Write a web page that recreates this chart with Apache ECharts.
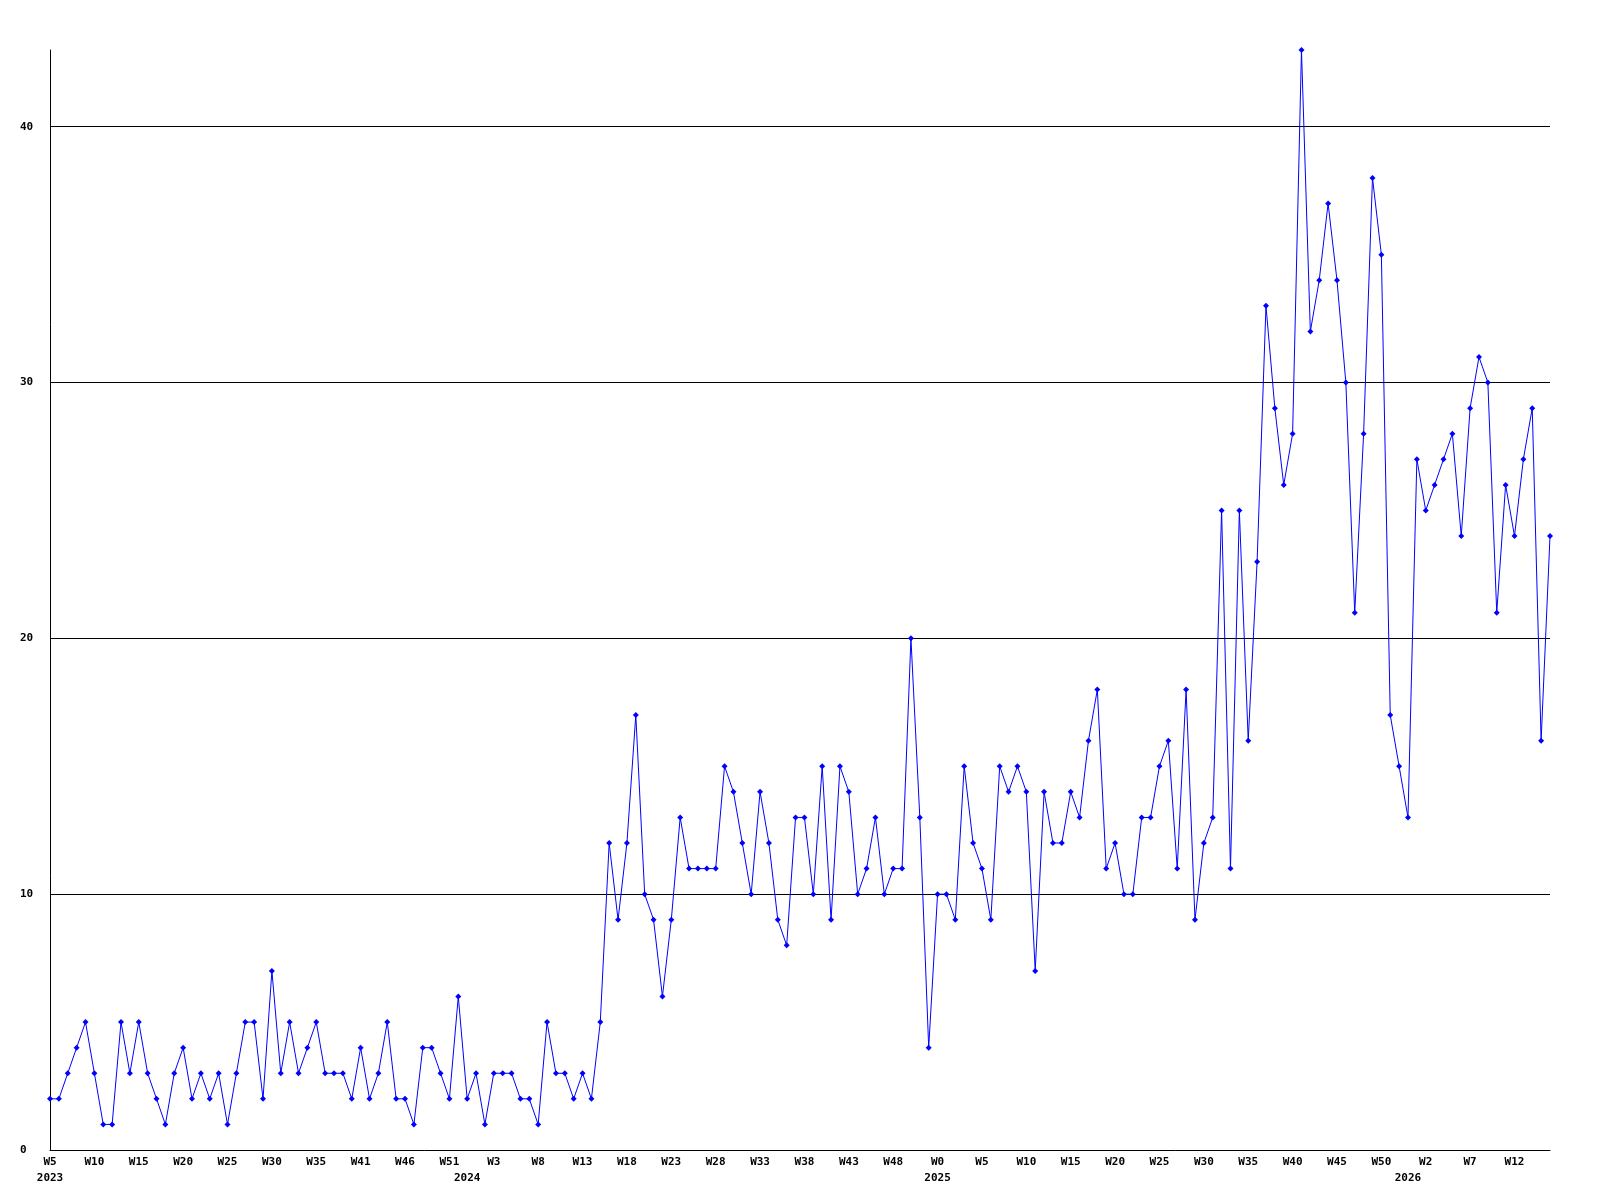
<!DOCTYPE html>
<html><head><meta charset="utf-8">
<script src="https://cdn.jsdelivr.net/npm/echarts@6/dist/echarts.min.js"></script>
<style>html,body{margin:0;padding:0;background:#fff}#c{width:1600px;height:1200px}</style>
</head><body><div id="c"></div>
<script>
// tick label shown under every 5th weekly point
const weekLabels = ['W5','W10','W15','W20','W25','W30','W35','W41','W46','W51',
  'W3','W8','W13','W18','W23','W28','W33','W38','W43','W48',
  'W0','W5','W10','W15','W20','W25','W30','W35','W40','W45','W50',
  'W2','W7','W12'];
const yearLabels = ['2023','2024','2025','2026'];
const yearStartIndex = [0, 47, 100, 153];
const yTicks = [0, 10, 20, 30, 40];
const values = [
  2,2,3,4,5,3,1,1,5,3,5,3,2,1,3,4,2,3,2,3,1,3,5,5,2,7,3,5,3,4,5,3,
  3,3,2,4,2,3,5,2,2,1,4,4,3,2,6,2,3,1,3,3,3,2,2,1,5,3,3,2,3,2,5,
  12,9,12,17,10,9,6,9,13,11,11,11,11,15,14,12,10,14,12,9,8,13,13,10,15,9,15,14,10,11,13,10,11,11,
  20,13,4,10,10,9,15,12,11,9,15,14,15,14,7,14,12,12,14,13,16,18,11,12,10,10,13,13,15,16,11,18,9,12,
  13,25,11,25,16,23,33,29,26,28,43,32,34,37,34,30,21,28,38,35,17,15,13,27,25,26,27,28,24,29,31,30,21,26,24,27,29,16,24
];

const points = values.map((v, i) => [i, v]);
const font = {fontFamily: 'DejaVu Sans Mono', fontWeight: 'bold', fontSize: 11, color: '#000'};
const chart = echarts.init(document.getElementById('c'));
chart.setOption({
  animation: false,
  backgroundColor: '#fff',
  grid: {left: 50, right: 50, top: 50, bottom: 50},
  xAxis: [{
    type: 'value', min: 0, max: values.length - 1, interval: 5,
    axisLine: {show: true, lineStyle: {color: '#000', width: 1}},
    axisTick: {show: false}, splitLine: {show: false},
    axisLabel: Object.assign({}, font, {margin: 7, showMaxLabel: true,
      formatter: v => (v % 5 === 0 ? (weekLabels[v / 5] || '') : '')})
  }, {
    type: 'value', min: 0, max: values.length - 1, position: 'bottom',
    axisLine: {show: false}, axisTick: {show: false}, splitLine: {show: false},
    axisLabel: Object.assign({}, font, {margin: 23, customValues: yearStartIndex,
      formatter: v => { const k = yearStartIndex.indexOf(v); return k >= 0 ? yearLabels[k] : ''; }})
  }],
  yAxis: {
    type: 'value', min: 0, max: Math.max(...values), interval: 10,
    axisLine: {show: true, lineStyle: {color: '#000', width: 1}},
    axisTick: {show: false}, splitLine: {show: false},
    axisLabel: Object.assign({}, font, {align: 'left', margin: 30,
      formatter: v => (yTicks.includes(v) ? String(v) : '')})
  },
  series: [{
    type: 'line', data: points, z: 3,
    lineStyle: {color: '#0000ff', width: 1},
    itemStyle: {color: '#0000ff'},
    symbol: 'diamond', symbolSize: 6, showSymbol: true,
    markLine: {
      silent: true, symbol: 'none', z: 1, animation: false,
      label: {show: false},
      lineStyle: {color: '#000', width: 1, type: 'solid'},
      emphasis: {disabled: true},
      data: yTicks.filter(v => v > 0).map(v => ({yAxis: v}))
    }
  }]
});
</script></body></html>
